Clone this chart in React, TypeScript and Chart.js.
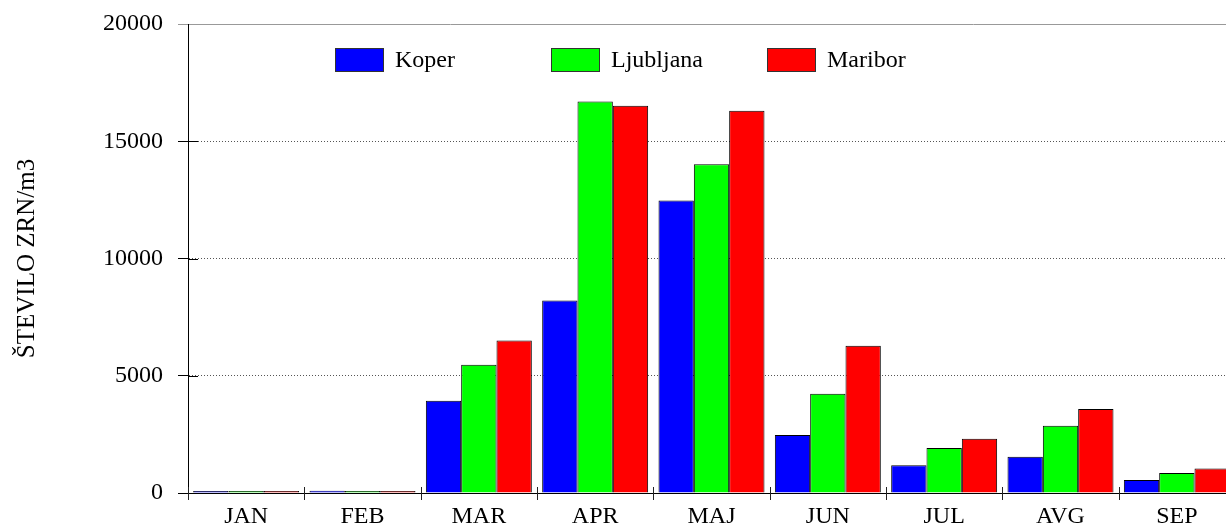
import React, { useEffect, useRef } from "react";
import { Chart, registerables } from "chart.js";

Chart.register(...registerables);

const categories = ["JAN", "FEB", "MAR", "APR", "MAJ", "JUN", "JUL", "AVG", "SEP"];
const seriesNames = ["Koper", "Ljubljana", "Maribor"];
const koper = [70, 100, 3930, 8210, 12470, 2470, 1180, 1550, 550];
const ljubljana = [25, 55, 5470, 16700, 14020, 4230, 1920, 2870, 850];
const maribor = [25, 40, 6500, 16510, 16300, 6280, 2310, 3580, 1040];
const seriesColors = ["#0000ff", "#00ff00", "#ff0000"];
const yTicks = [0, 5000, 10000, 15000, 20000];
const yTitle = "ŠTEVILO ZRN/m3";

const FONT = "'Liberation Serif', 'Times New Roman', serif";

const decorPlugin = {
  id: "decor",
  afterDatasetsDraw(chart: any) {
    const { ctx, chartArea, scales } = chart;
    const x = scales.x;
    const y = scales.y;
    ctx.save();
    // inner part of y ticks
    ctx.strokeStyle = "#000";
    ctx.lineWidth = 1;
    ctx.beginPath();
    yTicks.forEach((v) => {
      if (v === yTicks[yTicks.length - 1]) return;
      const py = Math.round(y.getPixelForValue(v)) + 0.5;
      ctx.moveTo(chartArea.left, py);
      ctx.lineTo(chartArea.left + 10, py);
    });
    ctx.stroke();
    // x ticks at category boundaries, crossing the axis
    const half = (x.getPixelForValue(1) - x.getPixelForValue(0)) / 2;
    const base = Math.round(chartArea.bottom);
    ctx.strokeStyle = "#222";
    ctx.beginPath();
    for (let i = 0; i < categories.length; i++) {
      const px = Math.round(x.getPixelForValue(i) - half) + 0.5;
      ctx.moveTo(px, base - 6);
      ctx.lineTo(px, base + 7);
    }
    ctx.stroke();
    // legend
    ctx.font = `24px ${FONT}`;
    ctx.textBaseline = "middle";
    ctx.textAlign = "left";
    chart.data.datasets.forEach((ds: any, i: number) => {
      const bx = chartArea.left + 147 + i * 216;
      const by = chartArea.top + 24;
      ctx.fillStyle = ds.backgroundColor;
      ctx.fillRect(bx, by, 49, 24);
      ctx.strokeStyle = "#333";
      ctx.strokeRect(bx + 0.5, by + 0.5, 48, 23);
      ctx.fillStyle = "#000";
      ctx.fillText(ds.label, bx + 60, by + 13);
    });
    ctx.restore();
  },
};

export default function App() {
  const ref = useRef<HTMLCanvasElement | null>(null);
  useEffect(() => {
    if (!ref.current) return;
    const topVal = yTicks[yTicks.length - 1];
    const chart = new Chart(ref.current, {
      type: "bar",
      data: {
        labels: categories,
        datasets: [koper, ljubljana, maribor].map((d, i) => ({
          label: seriesNames[i],
          data: d,
          backgroundColor: seriesColors[i],
          borderColor: "#000",
          borderWidth: 1,
          minBarLength: 2,
          categoryPercentage: 0.911,
          barPercentage: 1.0,
        })),
      },
      options: {
        responsive: false,
        animation: false,
        devicePixelRatio: 1,
        layout: { padding: { top: 24, left: 0, right: 0, bottom: 0 } },
        plugins: { legend: { display: false }, tooltip: { enabled: false } },
        font: { family: FONT },
        scales: {
          x: {
            type: "category",
            offset: true,
            grid: { display: false },
            border: { display: true, color: "#000", width: 1 },
            ticks: {
              color: "#000",
              padding: 1,
              font: { family: FONT, size: 24 },
              maxRotation: 0,
              autoSkip: false,
            },
            afterFit: (s: any) => {
              s.height = 33;
              s.paddingLeft = 0;
              s.paddingRight = 0;
            },
          },
          y: {
            min: 0,
            max: topVal,
            afterBuildTicks: (s: any) => {
              s.ticks = yTicks.map((v) => ({ value: v }));
            },
            grid: {
              drawTicks: true,
              tickLength: 10,
              lineWidth: 1,
              color: (c: any) =>
                c.tick && c.tick.value === topVal
                  ? "#999"
                  : c.tick && c.tick.value === 0
                  ? "rgba(0,0,0,0)"
                  : "#555",
              tickColor: (c: any) => (c.tick && c.tick.value === topVal ? "#999" : "#000"),
            },
            border: {
              display: true,
              color: "#000",
              width: 1,
              dash: (c: any) => (c.tick && c.tick.value === topVal ? [] : [1, 2]),
            },
            ticks: {
              color: "#000",
              padding: 15,
              font: { family: FONT, size: 24 },
              callback: (v: any) => String(v),
            },
            title: {
              display: true,
              text: yTitle,
              color: "#000",
              font: { family: FONT, size: 25 },
              padding: { top: 12, bottom: 0 },
            },
            afterFit: (s: any) => {
              s.width = 188;
              s.paddingTop = 0;
              s.paddingBottom = 0;
            },
          },
        },
      },
      plugins: [decorPlugin],
    });
    return () => chart.destroy();
  }, []);
  return (
    <div
      style={{
        position: "absolute",
        left: 0,
        top: 0,
        width: 1226,
        height: 526,
        overflow: "hidden",
        background: "#fff",
      }}
    >
      <canvas ref={ref} width={1235} height={526} style={{ display: "block" }} />
    </div>
  );
}
